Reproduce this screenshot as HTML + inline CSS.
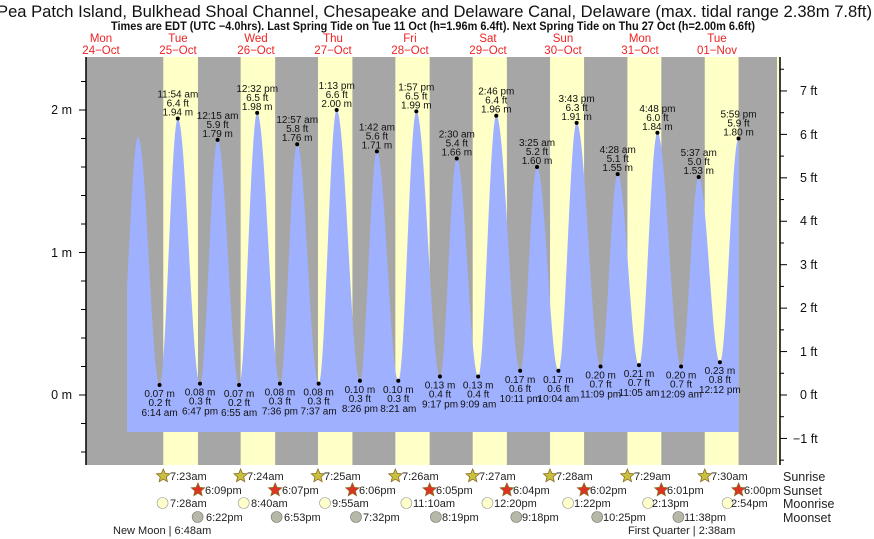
<!DOCTYPE html>
<html><head><meta charset="utf-8"><style>
body{margin:0;background:#fff;}
svg{display:block;font-family:"Liberation Sans",sans-serif;}
.h text,.l text{font-size:10px;text-anchor:middle;fill:#111;}
.ax{font-size:12.5px;fill:#111;}
.day{font-size:11.5px;fill:#ee2222;text-anchor:middle;}
.ev{font-size:11px;fill:#222;}
</style></head><body>
<svg id="s" width="874" height="539" viewBox="0 0 874 539" xmlns="http://www.w3.org/2000/svg">
<text x="-3" y="17" font-size="17" textLength="875" lengthAdjust="spacingAndGlyphs" fill="#111">Pea Patch Island, Bulkhead Shoal Channel, Chesapeake and Delaware Canal, Delaware (max. tidal range 2.38m 7.8ft)</text>
<text x="111" y="30" font-size="11.5" font-weight="bold" textLength="644" lengthAdjust="spacingAndGlyphs" fill="#111">Times are EDT (UTC −4.0hrs). Last Spring Tide on Tue 11 Oct (h=1.96m 6.4ft). Next Spring Tide on Thu 27 Oct (h=2.00m 6.6ft)</text>
<g class="day">
<text x="101" y="42">Mon</text><text x="101" y="54">24−Oct</text>
<text x="178" y="42">Tue</text><text x="178" y="54">25−Oct</text>
<text x="256" y="42">Wed</text><text x="256" y="54">26−Oct</text>
<text x="333" y="42">Thu</text><text x="333" y="54">27−Oct</text>
<text x="410" y="42">Fri</text><text x="410" y="54">28−Oct</text>
<text x="488" y="42">Sat</text><text x="488" y="54">29−Oct</text>
<text x="563" y="42">Sun</text><text x="563" y="54">30−Oct</text>
<text x="640" y="42">Mon</text><text x="640" y="54">31−Oct</text>
<text x="717" y="42">Tue</text><text x="717" y="54">01−Nov</text>
</g>
<rect x="86" y="57" width="694" height="408" fill="#a6a6a6"/>
<g id="bands" fill="#ffffc8"></g>
<rect x="777" y="57" width="3" height="408" fill="#ffffc8"/>
<path id="tide" fill="#9fb0ff"/>
<g id="dots" fill="#000"></g>
<line x1="86" y1="57" x2="86" y2="465" stroke="#000" stroke-width="1.5"/>
<line x1="780" y1="57" x2="780" y2="465" stroke="#000" stroke-width="1.5"/>
<g id="ticks" stroke="#000" stroke-width="1"></g>
<g class="ax" text-anchor="end">
<text x="72" y="114">2 m</text><text x="72" y="257">1 m</text><text x="72" y="399">0 m</text>
</g>
<g class="ax">
<text x="800" y="95">7 ft</text><text x="800" y="139">6 ft</text><text x="800" y="182">5 ft</text>
<text x="800" y="225">4 ft</text><text x="800" y="269">3 ft</text><text x="800" y="312">2 ft</text>
<text x="800" y="356">1 ft</text><text x="800" y="399">0 ft</text><text x="793" y="443">−1 ft</text>
</g>
<g class="h">
<g transform="translate(177.8,118.6)"><text y="-21">11:54 am</text><text y="-12">6.4 ft</text><text y="-3">1.94 m</text></g>
<g transform="translate(217.6,139.9)"><text y="-21">12:15 am</text><text y="-12">5.9 ft</text><text y="-3">1.79 m</text></g>
<g transform="translate(257.2,112.9)"><text y="-21">12:32 pm</text><text y="-12">6.5 ft</text><text y="-3">1.98 m</text></g>
<g transform="translate(297.2,144.2)"><text y="-21">12:57 am</text><text y="-12">5.8 ft</text><text y="-3">1.76 m</text></g>
<g transform="translate(336.7,110)"><text y="-21">1:13 pm</text><text y="-12">6.6 ft</text><text y="-3">2.00 m</text></g>
<g transform="translate(376.9,151.3)"><text y="-21">1:42 am</text><text y="-12">5.6 ft</text><text y="-3">1.71 m</text></g>
<g transform="translate(416.3,111.4)"><text y="-21">1:57 pm</text><text y="-12">6.5 ft</text><text y="-3">1.99 m</text></g>
<g transform="translate(456.8,158.5)"><text y="-21">2:30 am</text><text y="-12">5.4 ft</text><text y="-3">1.66 m</text></g>
<g transform="translate(496.3,115.7)"><text y="-21">2:46 pm</text><text y="-12">6.4 ft</text><text y="-3">1.96 m</text></g>
<g transform="translate(537,167)"><text y="-21">3:25 am</text><text y="-12">5.2 ft</text><text y="-3">1.60 m</text></g>
<g transform="translate(576.6,122.8)"><text y="-21">3:43 pm</text><text y="-12">6.3 ft</text><text y="-3">1.91 m</text></g>
<g transform="translate(617.7,174.1)"><text y="-21">4:28 am</text><text y="-12">5.1 ft</text><text y="-3">1.55 m</text></g>
<g transform="translate(657.4,132.8)"><text y="-21">4:48 pm</text><text y="-12">6.0 ft</text><text y="-3">1.84 m</text></g>
<g transform="translate(698.7,177)"><text y="-21">5:37 am</text><text y="-12">5.0 ft</text><text y="-3">1.53 m</text></g>
<g transform="translate(738.5,138.5)"><text y="-21">5:59 pm</text><text y="-12">5.9 ft</text><text y="-3">1.80 m</text></g>
</g>
<g class="l">
<g transform="translate(159.6,385)"><text y="12">0.07 m</text><text y="21">0.2 ft</text><text y="31">6:14 am</text></g>
<g transform="translate(200,383.6)"><text y="12">0.08 m</text><text y="21">0.3 ft</text><text y="31">6:47 pm</text></g>
<g transform="translate(239.1,385)"><text y="12">0.07 m</text><text y="21">0.2 ft</text><text y="31">6:55 am</text></g>
<g transform="translate(279.9,383.6)"><text y="12">0.08 m</text><text y="21">0.3 ft</text><text y="31">7:36 pm</text></g>
<g transform="translate(318.6,383.6)"><text y="12">0.08 m</text><text y="21">0.3 ft</text><text y="31">7:37 am</text></g>
<g transform="translate(359.9,380.8)"><text y="12">0.10 m</text><text y="21">0.3 ft</text><text y="31">8:26 pm</text></g>
<g transform="translate(398.3,380.8)"><text y="12">0.10 m</text><text y="21">0.3 ft</text><text y="31">8:21 am</text></g>
<g transform="translate(440,376.5)"><text y="12">0.13 m</text><text y="21">0.4 ft</text><text y="31">9:17 pm</text></g>
<g transform="translate(478.2,376.5)"><text y="12">0.13 m</text><text y="21">0.4 ft</text><text y="31">9:09 am</text></g>
<g transform="translate(520.1,370.8)"><text y="12">0.17 m</text><text y="21">0.6 ft</text><text y="31">10:11 pm</text></g>
<g transform="translate(558.4,370.8)"><text y="12">0.17 m</text><text y="21">0.6 ft</text><text y="31">10:04 am</text></g>
<g transform="translate(600.6,366.5)"><text y="12">0.20 m</text><text y="21">0.7 ft</text><text y="31">11:09 pm</text></g>
<g transform="translate(639,365.1)"><text y="12">0.21 m</text><text y="21">0.7 ft</text><text y="31">11:05 am</text></g>
<g transform="translate(681.1,366.5)"><text y="12">0.20 m</text><text y="21">0.7 ft</text><text y="31">12:09 am</text></g>
<g transform="translate(719.9,362.2)"><text y="12">0.23 m</text><text y="21">0.8 ft</text><text y="31">12:12 pm</text></g>
</g>
<g id="icons"></g>
<g class="ev">
<text x="170" y="480">7:23am</text><text x="247" y="480">7:24am</text><text x="324" y="480">7:25am</text><text x="402" y="480">7:26am</text><text x="479" y="480">7:27am</text><text x="556" y="480">7:28am</text><text x="634" y="480">7:29am</text><text x="711" y="480">7:30am</text>
<text x="205" y="494">6:09pm</text><text x="282" y="494">6:07pm</text><text x="359" y="494">6:06pm</text><text x="436" y="494">6:05pm</text><text x="513" y="494">6:04pm</text><text x="590" y="494">6:02pm</text><text x="667" y="494">6:01pm</text><text x="744" y="494">6:00pm</text>
<text x="170" y="507">7:28am</text><text x="251" y="507">8:40am</text><text x="332" y="507">9:55am</text><text x="413" y="507">11:10am</text><text x="494" y="507">12:20pm</text><text x="574" y="507">1:22pm</text><text x="652" y="507">2:13pm</text><text x="731" y="507">2:54pm</text>
<text x="206" y="521">6:22pm</text><text x="284" y="521">6:53pm</text><text x="363" y="521">7:32pm</text><text x="442" y="521">8:19pm</text><text x="522" y="521">9:18pm</text><text x="603" y="521">10:25pm</text><text x="684" y="521">11:38pm</text>
<text x="113" y="534">New Moon | 6:48am</text>
<text x="628" y="534">First Quarter | 2:38am</text>
</g>
<g font-size="12.5" fill="#222">
<text x="783" y="481">Sunrise</text><text x="783" y="495">Sunset</text><text x="783" y="508">Moonrise</text><text x="783" y="522">Moonset</text>
</g>
</svg>
<script>
(function(){
var NS="http://www.w3.org/2000/svg",X0=139.5,D=77.3;
function xt(d,h,m){return X0+(d+(h+m/60)/24)*D;}
function Y(h){return 395-h*142.5;}
function el(t,a,p){var e=document.createElementNS(NS,t);for(var k in a)e.setAttribute(k,a[k]);document.getElementById(p).appendChild(e);return e;}
var sr=[23,24,25,26,27,28,29,30],ss=[[18,9],[18,7],[18,6],[18,5],[18,4],[18,2],[18,1],[18,0]];
for(var d=0;d<8;d++){var a=xt(d,7,sr[d]),b=xt(d,ss[d][0],ss[d][1]);el("rect",{x:a,y:57,width:b-a,height:408},"bands");}
var ev=[[-1,17,30,0.08],[-1,23,35,1.81],[0,6,14,.07],[0,11,54,1.94],[0,18,47,.08],[1,0,15,1.79],[1,6,55,.07],[1,12,32,1.98],[1,19,36,.08],[2,0,57,1.76],[2,7,37,.08],[2,13,13,2.00],[2,20,26,.10],[3,1,42,1.71],[3,8,21,.10],[3,13,57,1.99],[3,21,17,.13],[4,2,30,1.66],[4,9,9,.13],[4,14,46,1.96],[4,22,11,.17],[5,3,25,1.60],[5,10,4,.17],[5,15,43,1.91],[5,23,9,.20],[6,4,28,1.55],[6,11,5,.21],[6,16,48,1.84],[7,0,9,.20],[7,5,37,1.53],[7,12,12,.23],[7,17,59,1.80]];
var P=ev.map(function(e){return [xt(e[0],e[1],e[2]),e[3]];});
var x0=127,x1=P[P.length-1][0],d="M"+x0+",432";
for(var x=x0;x<=x1+0.01;x+=0.5){var i=0;while(i<P.length-2&&P[i+1][0]<x)i++;var a=P[i],b=P[i+1];var t=(x-a[0])/(b[0]-a[0]);t=Math.max(0,Math.min(1,t));var h=a[1]+(b[1]-a[1])*(1-Math.cos(Math.PI*t))/2;d+=" L"+x.toFixed(1)+","+Y(h).toFixed(1);}
d+=" L"+x1.toFixed(1)+","+Y(P[P.length-1][1]).toFixed(1)+" L"+x1.toFixed(1)+",432 Z";
document.getElementById("tide").setAttribute("d",d);
for(var k=2;k<P.length;k++)el("circle",{cx:P[k][0],cy:Y(P[k][1]),r:2},"dots");
for(var v=-0.4;v<=2.31;v+=0.2){var y=Y(v);var maj=Math.abs(v-Math.round(v))<0.01;el("line",{x1:maj?79:81,x2:86,y1:y,y2:y},"ticks");}
for(var f=-1.5;f<=7.6;f+=0.5){var y=Y(f*0.3048);if(y<57||y>465)continue;var maj=Math.abs(f-Math.round(f))<0.01;el("line",{x1:780,x2:maj?787:784,y1:y,y2:y},"ticks");}
function star(cx,cy,fill){var s="";for(var j=0;j<10;j++){var r=j%2?3.2:7,an=-Math.PI/2+j*Math.PI/5;s+=(cx+r*Math.cos(an)).toFixed(1)+","+(cy+r*Math.sin(an)).toFixed(1)+" ";}el("polygon",{points:s,fill:fill,stroke:"#8a6a20","stroke-width":0.8},"icons");}
for(var d2=0;d2<8;d2++){star(xt(d2,7,sr[d2]),476,"#c8c040");star(xt(d2,ss[d2][0],ss[d2][1]),490,"#dd3322");}
var mr=[[7,28],[8,40],[9,55],[11,10],[12,20],[13,22],[14,13],[14,54]];
for(var d3=0;d3<8;d3++)el("circle",{cx:xt(d3,mr[d3][0],mr[d3][1])-1,cy:503,r:5.5,fill:"#ffffcc",stroke:"#999","stroke-width":0.6},"icons");
var ms=[[18,22],[18,53],[19,32],[20,19],[21,18],[22,25],[23,38]];
for(var d4=0;d4<7;d4++)el("circle",{cx:xt(d4,ms[d4][0],ms[d4][1])-1,cy:517,r:5.5,fill:"#b8b8a8",stroke:"#777","stroke-width":0.6},"icons");
})();
</script>
</body></html>
